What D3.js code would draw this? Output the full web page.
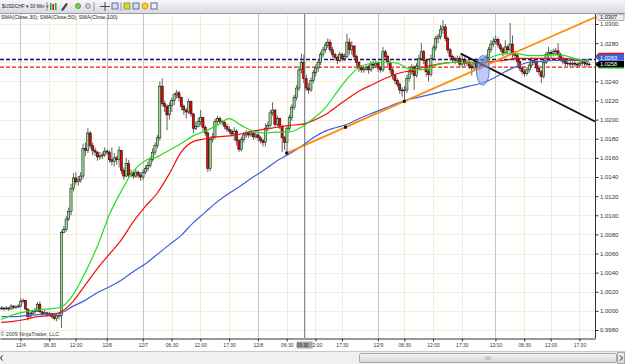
<!DOCTYPE html>
<html>
<head>
<meta charset="utf-8">
<script src="https://cdn.jsdelivr.net/npm/d3@7"></script>
<style>
  body { margin: 0; background: #fff; overflow: hidden; }
  svg { display: block; font-family: "Liberation Sans", Arial, sans-serif; }
</style>
</head>
<body>
<svg id="chart"></svg>
<script>
// USDCHF 30 min bars, prices
let firstOpen = 1.0002

let closes = [
  1.0003, 1.0002, 1.0003, 1.0002, 1.0005, 1.0004, 1.0004, 1.0005, 1.0010, 1.0011, 1.0002, 0.9994, 0.9997, 0.9999, 1.0000, 1.0007, 0.9999, 0.9997, 0.9998, 0.9996, 0.9997, 0.9994, 0.9992, 0.9995, 0.9995,
  1.0082, 1.0085, 1.0096, 1.0104, 1.0128, 1.0139, 1.0135, 1.0137, 1.0141, 1.0170, 1.0168, 1.0186, 1.0173, 1.0168, 1.0166, 1.0161, 1.0162, 1.0163, 1.0167, 1.0166, 1.0158, 1.0156, 1.0160, 1.0158, 1.0168, 1.0147, 1.0141, 1.0154, 1.0142, 1.0144, 1.0141, 1.0145, 1.0142, 1.0140, 1.0145, 1.0149,
  1.0152, 1.0158, 1.0166, 1.0173, 1.0181, 1.0235, 1.0217, 1.0214, 1.0205, 1.0215, 1.0220, 1.0226, 1.0228, 1.0223, 1.0214, 1.0210, 1.0208, 1.0219, 1.0206, 1.0191, 1.0193, 1.0198, 1.0202, 1.0192, 1.0186, 1.0149, 1.0179, 1.0182, 1.0198, 1.0201, 1.0198, 1.0197, 1.0193, 1.0190, 1.0188, 1.0185, 1.0188, 1.0178, 1.0169, 1.0179,
  1.0184, 1.0186, 1.0184, 1.0186, 1.0182, 1.0184, 1.0181, 1.0178, 1.0176, 1.0191, 1.0194, 1.0207, 1.0210, 1.0195, 1.0201, 1.0193, 1.0181, 1.0176, 1.0191, 1.0202, 1.0213, 1.0223, 1.0233, 1.0252, 1.0260, 1.0243, 1.0233, 1.0231, 1.0241, 1.0249, 1.0254, 1.0260, 1.0268, 1.0273, 1.0278, 1.0281, 1.0273, 1.0268, 1.0265, 1.0262,
  1.0268, 1.0264, 1.0266, 1.0281, 1.0273, 1.0277, 1.0266, 1.0260, 1.0254, 1.0252, 1.0253, 1.0255, 1.0252, 1.0258, 1.0257, 1.0259, 1.0254, 1.0252, 1.0271, 1.0266, 1.0260, 1.0252, 1.0246, 1.0241, 1.0237, 1.0231, 1.0230, 1.0231, 1.0243, 1.0250, 1.0255, 1.0246, 1.0256, 1.0264, 1.0271, 1.0262, 1.0250, 1.0247, 1.0264, 1.0275,
  1.0285, 1.0287, 1.0294, 1.0297, 1.0285, 1.0273, 1.0266, 1.0264, 1.0262, 1.0264, 1.0258, 1.0263, 1.0259, 1.0260, 1.0256, 1.0254, 1.0259, 1.0255, 1.0260, 1.0256, 1.0262, 1.0265, 1.0273, 1.0279, 1.0282, 1.0284, 1.0278, 1.0274, 1.0270, 1.0276,
  1.0273, 1.0279, 1.0268, 1.0267, 1.0261, 1.0254, 1.0250, 1.0248, 1.0252, 1.0257, 1.0262, 1.0260, 1.0254, 1.0250, 1.0245, 1.0260, 1.0268, 1.0270, 1.0269, 1.0271, 1.0272, 1.0268, 1.0264, 1.0261, 1.0259, 1.0259, 1.0258, 1.0259, 1.0258, 1.0257, 1.0259, 1.0260, 1.0259, 1.0258, 1.0258
]

let highs = [
  1.0005, 1.0004, 1.0005, 1.0004, 1.0007, 1.0006, 1.0006, 1.0007, 1.0013, 1.0013, 1.0010, 1.0002, 0.9999, 1.0001, 1.0003, 1.0009, 1.0010, 1.0000, 1.0001, 0.9999, 0.9999, 0.9998, 0.9996, 0.9997, 0.9998,
  1.0084, 1.0089, 1.0099, 1.0108, 1.0133, 1.0144, 1.0145, 1.0141, 1.0145, 1.0175, 1.0176, 1.0191, 1.0188, 1.0176, 1.0171, 1.0167, 1.0166, 1.0166, 1.0171, 1.0169, 1.0168, 1.0171, 1.0165, 1.0162, 1.0172, 1.0168, 1.0150, 1.0160, 1.0158, 1.0148, 1.0146, 1.0148, 1.0147, 1.0145, 1.0148, 1.0152,
  1.0156, 1.0161, 1.0170, 1.0176, 1.0184, 1.0240, 1.0243, 1.0220, 1.0216, 1.0218, 1.0223, 1.0228, 1.0231, 1.0230, 1.0224, 1.0216, 1.0212, 1.0222, 1.0220, 1.0207, 1.0198, 1.0202, 1.0210, 1.0203, 1.0194, 1.0188, 1.0182, 1.0186, 1.0201, 1.0204, 1.0203, 1.0200, 1.0199, 1.0196, 1.0193, 1.0190, 1.0192, 1.0190, 1.0180, 1.0182,
  1.0187, 1.0189, 1.0188, 1.0189, 1.0188, 1.0187, 1.0187, 1.0183, 1.0180, 1.0196, 1.0198, 1.0210, 1.0218, 1.0211, 1.0204, 1.0202, 1.0195, 1.0183, 1.0193, 1.0205, 1.0216, 1.0226, 1.0236, 1.0256, 1.0269, 1.0268, 1.0247, 1.0238, 1.0244, 1.0252, 1.0258, 1.0263, 1.0271, 1.0276, 1.0281, 1.0285, 1.0284, 1.0276, 1.0270, 1.0267,
  1.0271, 1.0270, 1.0269, 1.0290, 1.0285, 1.0282, 1.0278, 1.0268, 1.0261, 1.0257, 1.0256, 1.0258, 1.0257, 1.0261, 1.0261, 1.0262, 1.0261, 1.0256, 1.0276, 1.0273, 1.0268, 1.0262, 1.0254, 1.0248, 1.0243, 1.0239, 1.0234, 1.0235, 1.0247, 1.0253, 1.0258, 1.0257, 1.0259, 1.0268, 1.0280, 1.0273, 1.0264, 1.0253, 1.0268, 1.0278,
  1.0288, 1.0290, 1.0299, 1.0304, 1.0300, 1.0287, 1.0275, 1.0268, 1.0266, 1.0267, 1.0267, 1.0268, 1.0265, 1.0263, 1.0262, 1.0258, 1.0262, 1.0261, 1.0263, 1.0262, 1.0265, 1.0268, 1.0276, 1.0283, 1.0286, 1.0288, 1.0286, 1.0280, 1.0276, 1.0283,
  1.0278, 1.0301, 1.0288, 1.0272, 1.0269, 1.0263, 1.0256, 1.0253, 1.0255, 1.0260, 1.0265, 1.0264, 1.0262, 1.0257, 1.0252, 1.0263, 1.0271, 1.0276, 1.0273, 1.0274, 1.0275, 1.0280, 1.0270, 1.0266, 1.0263, 1.0262, 1.0261, 1.0261, 1.0261, 1.0260, 1.0261, 1.0262, 1.0262, 1.0261, 1.0260
]

let lows = [
  1.0001, 1.0000, 1.0001, 1.0000, 1.0001, 1.0002, 1.0002, 1.0003, 1.0004, 1.0008, 1.0001, 0.9990, 0.9993, 0.9996, 0.9997, 0.9999, 0.9998, 0.9995, 0.9996, 0.9994, 0.9995, 0.9992, 0.9990, 0.9989, 0.9991,
  0.9982, 1.0081, 1.0083, 1.0094, 1.0100, 1.0125, 1.0132, 1.0131, 1.0134, 1.0138, 1.0162, 1.0165, 1.0170, 1.0163, 1.0162, 1.0157, 1.0158, 1.0159, 1.0161, 1.0163, 1.0155, 1.0152, 1.0151, 1.0153, 1.0150, 1.0143, 1.0137, 1.0140, 1.0139, 1.0140, 1.0138, 1.0139, 1.0139, 1.0136, 1.0137, 1.0143,
  1.0146, 1.0150, 1.0156, 1.0163, 1.0170, 1.0178, 1.0214, 1.0208, 1.0189, 1.0200, 1.0208, 1.0215, 1.0222, 1.0219, 1.0210, 1.0205, 1.0201, 1.0206, 1.0203, 1.0186, 1.0189, 1.0192, 1.0194, 1.0188, 1.0183, 1.0145, 1.0146, 1.0176, 1.0180, 1.0195, 1.0195, 1.0194, 1.0190, 1.0187, 1.0185, 1.0182, 1.0178, 1.0173, 1.0166, 1.0167,
  1.0176, 1.0181, 1.0181, 1.0182, 1.0179, 1.0180, 1.0177, 1.0175, 1.0172, 1.0172, 1.0188, 1.0192, 1.0204, 1.0192, 1.0193, 1.0190, 1.0166, 1.0168, 1.0165, 1.0188, 1.0199, 1.0210, 1.0220, 1.0230, 1.0248, 1.0238, 1.0230, 1.0227, 1.0229, 1.0238, 1.0245, 1.0250, 1.0257, 1.0265, 1.0270, 1.0275, 1.0270, 1.0265, 1.0262, 1.0258,
  1.0260, 1.0261, 1.0261, 1.0264, 1.0268, 1.0268, 1.0262, 1.0256, 1.0250, 1.0249, 1.0249, 1.0251, 1.0248, 1.0250, 1.0253, 1.0254, 1.0250, 1.0249, 1.0250, 1.0262, 1.0256, 1.0248, 1.0242, 1.0237, 1.0234, 1.0227, 1.0224, 1.0218, 1.0228, 1.0240, 1.0247, 1.0231, 1.0244, 1.0254, 1.0262, 1.0258, 1.0245, 1.0240, 1.0245, 1.0262,
  1.0272, 1.0280, 1.0284, 1.0290, 1.0282, 1.0270, 1.0262, 1.0260, 1.0258, 1.0260, 1.0254, 1.0255, 1.0256, 1.0256, 1.0253, 1.0246, 1.0252, 1.0251, 1.0252, 1.0252, 1.0254, 1.0258, 1.0262, 1.0270, 1.0276, 1.0279, 1.0275, 1.0271, 1.0266, 1.0268,
  1.0268, 1.0270, 1.0264, 1.0262, 1.0257, 1.0251, 1.0247, 1.0245, 1.0246, 1.0249, 1.0255, 1.0257, 1.0250, 1.0246, 1.0238, 1.0243, 1.0258, 1.0264, 1.0265, 1.0266, 1.0267, 1.0265, 1.0261, 1.0258, 1.0256, 1.0256, 1.0255, 1.0256, 1.0255, 1.0254, 1.0255, 1.0256, 1.0256, 1.0255, 1.0256
]

// moving averages, one value every 5 bars
let smaStep = 5
let sma30 = [0.9991, 0.9996, 0.9999, 1.0001, 1.0002, 1.0004, 1.0017, 1.0040, 1.0067, 1.0100, 1.0125, 1.0146, 1.0157, 1.0161, 1.0168, 1.0175, 1.0183, 1.0188, 1.0194, 1.0201, 1.0194, 1.0188, 1.0186, 1.0187, 1.0187, 1.0192, 1.0201, 1.0212, 1.0229, 1.0245, 1.0256, 1.0259, 1.0260, 1.0259, 1.0253, 1.0252, 1.0256, 1.0259, 1.0260, 1.0259, 1.0260, 1.0266, 1.0269, 1.0269, 1.0267, 1.0267, 1.0268, 1.0267, 1.0263, 1.0261]
let sma50 = [0.9988, 0.9989, 0.9991, 0.9994, 0.9995, 0.9999, 1.0010, 1.0027, 1.0044, 1.0059, 1.0074, 1.0093, 1.0109, 1.0123, 1.0143, 1.0166, 1.0177, 1.0180, 1.0182, 1.0183, 1.0185, 1.0188, 1.0190, 1.0192, 1.0194, 1.0195, 1.0199, 1.0205, 1.0214, 1.0223, 1.0231, 1.0237, 1.0243, 1.0248, 1.0251, 1.0254, 1.0257, 1.0259, 1.0260, 1.0260, 1.0260, 1.0261, 1.0262, 1.0264, 1.0264, 1.0264, 1.0264, 1.0264, 1.0262, 1.0261]
let sma100 = [0.9994, 0.9994, 0.9995, 0.9996, 0.9997, 0.9998, 1.0005, 1.0011, 1.0019, 1.0025, 1.0032, 1.0041, 1.0049, 1.0059, 1.0069, 1.0079, 1.0092, 1.0103, 1.0114, 1.0123, 1.0131, 1.0140, 1.0148, 1.0157, 1.0164, 1.0172, 1.0181, 1.0188, 1.0192, 1.0196, 1.0202, 1.0207, 1.0212, 1.0217, 1.0221, 1.0224, 1.0227, 1.0230, 1.0232, 1.0235, 1.0238, 1.0243, 1.0250, 1.0256, 1.0260, 1.0261, 1.0262, 1.0262, 1.0262, 1.0263]

let yTicks = [0.9980, 1.0000, 1.0020, 1.0040, 1.0060, 1.0080, 1.0100, 1.0120, 1.0140, 1.0160, 1.0180, 1.0200, 1.0220, 1.0240, 1.0260, 1.0280, 1.0300]
let xTickBars = [8, 20, 31, 44, 59, 71, 83, 95, 107, 119, 131, 142, 157, 168, 180, 192, 206, 218, 229, 241]
let xTickLabels = ['12/4', '06:30', '12:00', '12/6', '12/7', '06:30', '12:00', '17:30', '12/8', '06:30', '12:00', '17:30', '12/9', '06:30', '12:00', '17:30', '12/10', '06:30', '12:00', '17:30']

let crossBar = 126.5
let crossLabel = '09:30'
let askPrice = 1.0263
let bidPrice = 1.0255
let orangeLine = [{bar: 119, price: 1.0165}, {bar: 247.5, price: 1.0307}]
let orangeMarks = [119, 143.5, 168]
let blackLine = [{bar: 191.5, price: 1.0269}, {bar: 247.5, price: 1.0198}]
let ellipseBox = {bar1: 198.5, bar2: 203, top: 1.0267, bottom: 1.0236}

let width = 625
let height = 364
let plotRight = 595
let plotTop = 14
let plotBottom = 338

let svg = d3.select('#chart').attr('width', width).attr('height', height)

let xScale = d3.scaleLinear().domain([-0.5, 247.5]).range([0, plotRight])
let yScale = d3.scaleLinear().domain([0.9980, 1.0300]).range([330, 24])

let bars = closes.map((c, i) => {
    let o = i === 0 ? firstOpen : closes[i - 1]
    return {i: i, o: o, c: c, h: Math.max(highs[i], o, c), l: Math.min(lows[i], o, c)}
})

let drawFrame = () => {
    let defs = svg.append('defs')
    let tb = defs.append('linearGradient').attr('id', 'tb').attr('x1', 0).attr('x2', 0).attr('y1', 0).attr('y2', 1)
    tb.append('stop').attr('offset', 0).attr('stop-color', '#f7f7fa')
    tb.append('stop').attr('offset', 1).attr('stop-color', '#d9d9e2')
    let sb = defs.append('linearGradient').attr('id', 'sb').attr('x1', 0).attr('x2', 0).attr('y1', 0).attr('y2', 1)
    sb.append('stop').attr('offset', 0).attr('stop-color', '#f4f4f4')
    sb.append('stop').attr('offset', 1).attr('stop-color', '#d6d6d6')
    defs.append('clipPath').attr('id', 'plot')
        .append('rect').attr('x', 0).attr('y', plotTop).attr('width', plotRight).attr('height', plotBottom - plotTop)

    // toolbar
    svg.append('rect').attr('x', 0).attr('y', 0).attr('width', width).attr('height', 13).attr('fill', 'url(#tb)')
    svg.append('line').attr('x1', 0).attr('x2', width).attr('y1', 13.5).attr('y2', 13.5).attr('stroke', '#9a9aa4')
    let tool = svg.append('g').style('font-size', '4.8px').attr('fill', '#222')
    tool.append('text').attr('x', 2).attr('y', 8).text('$USDCHF ▾')
    tool.append('text').attr('x', 30).attr('y', 8).text('30 Min ▾')
    ;[47, 94, 121].forEach(x => {
        tool.append('line').attr('x1', x).attr('x2', x).attr('y1', 2).attr('y2', 11).attr('stroke', '#999')
    })
    tool.append('rect').attr('x', 50).attr('y', 3).attr('width', 1.5).attr('height', 7).attr('fill', '#2a2')
    tool.append('rect').attr('x', 52.5).attr('y', 4).attr('width', 1.5).attr('height', 6).attr('fill', '#d00')
    tool.append('rect').attr('x', 55).attr('y', 3).attr('width', 1.5).attr('height', 7).attr('fill', '#2a2')
    tool.append('path').attr('d', 'M61,10 L66,3 L68,4 L63,11 Z').attr('fill', '#444')
    tool.append('circle').attr('cx', 78).attr('cy', 6).attr('r', 2.5).attr('fill', '#8c4').attr('stroke', '#4a2')
    tool.append('circle').attr('cx', 88).attr('cy', 6).attr('r', 2.5).attr('fill', '#ccc').attr('stroke', '#999')
    tool.append('path').attr('d', 'M100,6.5 H110 M105,2 V11').attr('stroke', '#222').attr('stroke-width', 0.8)
    tool.append('rect').attr('x', 112).attr('y', 3).attr('width', 6).attr('height', 6).attr('fill', '#dde').attr('stroke', '#57a')
    tool.append('rect').attr('x', 124).attr('y', 3).attr('width', 6).attr('height', 6).attr('fill', '#dc4').attr('stroke', '#8a2')
    tool.append('rect').attr('x', 133).attr('y', 3).attr('width', 6).attr('height', 6).attr('fill', '#cde').attr('stroke', '#579')
    tool.append('circle').attr('cx', 145).attr('cy', 6).attr('r', 3).attr('fill', '#fc3').attr('stroke', '#c90')
    tool.append('rect').attr('x', 151).attr('y', 3).attr('width', 6).attr('height', 6).attr('fill', '#eef').attr('stroke', '#668')

    // scrollbar
    svg.append('rect').attr('x', 0).attr('y', 351).attr('width', width).attr('height', 13).attr('fill', '#f0f0f0')
    svg.append('line').attr('x1', 0).attr('x2', width).attr('y1', 351.5).attr('y2', 351.5).attr('stroke', '#c8c8c8')
    svg.append('rect').attr('x', 359.5).attr('y', 353.5).attr('width', 257).attr('height', 9).attr('rx', 1.5)
        .attr('fill', 'url(#sb)').attr('stroke', '#a8a8a8')
    svg.append('path').attr('d', 'M486,356 V360 M488,356 V360 M490,356 V360').attr('stroke', '#888').attr('stroke-width', 0.6)
    svg.append('rect').attr('x', 617.5).attr('y', 352.5).attr('width', 7).attr('height', 11).attr('fill', 'url(#sb)').attr('stroke', '#a8a8a8')
    svg.append('path').attr('d', 'M620,355.5 L622.5,358 L620,360.5').attr('fill', 'none').attr('stroke', '#222')
    svg.append('path').attr('d', 'M2.5,355.5 L0.5,358 L2.5,360.5').attr('fill', 'none').attr('stroke', '#222')
}

let drawGrid = () => {
    let grid = svg.append('g')
    grid.selectAll('line.h').data(yTicks).enter().append('line')
        .attr('x1', 0).attr('x2', plotRight)
        .attr('y1', d => Math.round(yScale(d)) + 0.5).attr('y2', d => Math.round(yScale(d)) + 0.5)
        .attr('stroke', '#f0efd9')
    grid.selectAll('line.v').data(xTickBars).enter().append('line')
        .attr('x1', d => Math.round(xScale(d)) + 0.5).attr('x2', d => Math.round(xScale(d)) + 0.5)
        .attr('y1', plotTop).attr('y2', plotBottom)
        .attr('stroke', (d, i) => xTickLabels[i].includes('/') ? '#c6c6c6' : '#f0efd9')
}

let drawLevels = () => {
    let g = svg.append('g').attr('clip-path', 'url(#plot)')
    g.append('line').attr('x1', 0).attr('x2', plotRight)
        .attr('y1', yScale(askPrice)).attr('y2', yScale(askPrice))
        .attr('stroke', '#10107a').attr('stroke-width', 1.5).attr('stroke-dasharray', '4,2')
    g.append('line').attr('x1', 0).attr('x2', plotRight)
        .attr('y1', yScale(bidPrice)).attr('y2', yScale(bidPrice))
        .attr('stroke', '#ff1a00').attr('stroke-width', 1.3).attr('stroke-dasharray', '4,2')
}

let drawCandles = () => {
    let g = svg.append('g').attr('clip-path', 'url(#plot)')
    g.selectAll('line.wick').data(bars).enter().append('line')
        .attr('x1', d => xScale(d.i) + 0.3).attr('x2', d => xScale(d.i) + 0.3)
        .attr('y1', d => yScale(d.h)).attr('y2', d => yScale(d.l))
        .attr('stroke', '#505050').attr('stroke-width', 0.9)
    g.selectAll('rect.body').data(bars).enter().append('rect')
        .attr('x', d => xScale(d.i) - 0.9)
        .attr('y', d => yScale(Math.max(d.o, d.c)))
        .attr('width', 2.2)
        .attr('height', d => Math.max(0.6, Math.abs(yScale(d.o) - yScale(d.c))))
        .attr('fill', d => d.c >= d.o ? '#8fe08f' : '#f00000')
        .attr('stroke', '#111').attr('stroke-width', 0.55)
}

let drawSma = () => {
    let g = svg.append('g').attr('clip-path', 'url(#plot)')
    let line = d3.line().x((d, i) => xScale(i * smaStep)).y(d => yScale(d)).curve(d3.curveMonotoneX)
    ;[[sma100, '#3d62e0'], [sma50, '#f01010'], [sma30, '#20e020']].forEach(s => {
        g.append('path').attr('d', line(s[0])).attr('fill', 'none')
            .attr('stroke', s[1]).attr('stroke-width', 1.2)
    })
}

let drawDrawings = () => {
    let g = svg.append('g').attr('clip-path', 'url(#plot)')
    let seg = d3.line().x(d => xScale(d.bar)).y(d => yScale(d.price))
    g.append('path').attr('d', seg(orangeLine)).attr('stroke', '#ff8c0a').attr('stroke-width', 1.8).attr('fill', 'none')
    let a = orangeLine[0], b = orangeLine[1]
    let at = bar => a.price + (b.price - a.price) * (bar - a.bar) / (b.bar - a.bar)
    g.selectAll('rect.mark').data(orangeMarks).enter().append('rect')
        .attr('x', d => xScale(d) - 1.5).attr('y', d => yScale(at(d)) - 1.5)
        .attr('width', 3).attr('height', 3).attr('fill', '#111')
    g.append('path').attr('d', seg(blackLine)).attr('stroke', '#111').attr('stroke-width', 1.8).attr('fill', 'none')
    let ex1 = xScale(ellipseBox.bar1), ex2 = xScale(ellipseBox.bar2)
    let ey1 = yScale(ellipseBox.top), ey2 = yScale(ellipseBox.bottom)
    g.append('ellipse').attr('cx', (ex1 + ex2) / 2).attr('cy', (ey1 + ey2) / 2)
        .attr('rx', (ex2 - ex1) / 2 + 1).attr('ry', (ey2 - ey1) / 2)
        .attr('fill', '#8c9cf4').attr('fill-opacity', 0.55).attr('stroke', '#4a5ee0').attr('stroke-width', 0.8)

    // crosshair
    svg.append('line').attr('x1', xScale(crossBar)).attr('x2', xScale(crossBar))
        .attr('y1', plotTop).attr('y2', plotBottom).attr('stroke', '#6e6e6e').attr('stroke-width', 1)
}

let lastClose = closes[closes.length - 1]

let genAxes = () => {
    // the price tags on the right cover the tick label next to the last price
    let hidden = v => Math.abs(yScale(v) - yScale(lastClose)) < 6
    let yAxis = d3.axisRight(yScale).tickValues(yTicks)
        .tickFormat(d => hidden(d) ? '' : d3.format('.4f')(d)).tickSize(3).tickPadding(1.5)
    let gy = svg.append('g').attr('transform', 'translate(' + (plotRight + 0.5) + ',0)')
        .call(yAxis)
    gy.select('.domain').remove()
    gy.selectAll('text').style('font-size', '6px').attr('fill', '#333')
    gy.selectAll('line').attr('stroke', '#333')
    svg.append('line').attr('x1', plotRight + 0.5).attr('x2', plotRight + 0.5)
        .attr('y1', plotTop).attr('y2', plotBottom + 0.5).attr('stroke', '#333')

    let xAxis = d3.axisBottom(xScale).tickValues(xTickBars).tickFormat((d, i) => xTickLabels[i]).tickSize(3).tickSizeOuter(0).tickPadding(1.5)
    let gx = svg.append('g').attr('transform', 'translate(0,' + (plotBottom + 0.5) + ')')
        .call(xAxis)
    gx.select('.domain').attr('stroke', '#333')
    gx.selectAll('text').style('font-size', '5px').attr('fill', '#333')
    gx.selectAll('line').attr('stroke', '#333')

    // crosshair time box
    let cx = xScale(crossBar)
    svg.append('rect').attr('x', cx - 8).attr('y', 341.5).attr('width', 16).attr('height', 7).attr('fill', '#a9a9a9')
    svg.append('text').attr('x', cx - 2.2).attr('y', 347).attr('text-anchor', 'middle')
        .style('font-size', '4.8px').attr('fill', '#222').text(crossLabel)
}

let priceTag = (yc, fill, stroke) => {
    return svg.append('path')
        .attr('d', 'M' + (plotRight + 0.5) + ',' + yc + ' L' + (plotRight + 4) + ',' + (yc - 3.2) + ' H624 V' + (yc + 3.2) + ' H' + (plotRight + 4) + ' Z')
        .attr('fill', fill).attr('stroke', stroke || 'none').attr('stroke-width', 0.6)
}

let genLabels = () => {
    svg.append('text').attr('x', 1).attr('y', 19).style('font-size', '5.3px').attr('fill', '#222')
        .text('SMA(Close,30); SMA(Close,50); SMA(Close,100)')
    svg.append('text').attr('x', 0.5).attr('y', 336).style('font-size', '5.3px').attr('fill', '#333')
        .text('© 2009 NinjaTrader, LLC')

    // green and red tags sit behind the others, only their edges show
    let yClose = yScale(lastClose)
    let yBlue = Math.min(yScale(sma100[sma100.length - 1]), yClose - 6.6)
    priceTag(yBlue - 1.6, '#e01010')
    priceTag(yClose + 1.2, '#20c020')
    priceTag(yBlue, '#3d62e0')
    svg.append('text').attr('x', plotRight + 5).attr('y', yBlue + 2.1).style('font-size', '5.6px')
        .attr('fill', '#fff').text(d3.format('.4f')(sma100[sma100.length - 1]))
    priceTag(yClose, '#000')
    svg.append('text').attr('x', plotRight + 5).attr('y', yClose + 2.1).style('font-size', '5.6px')
        .attr('fill', '#fff').text(d3.format('.4f')(lastClose))

    let ty = yScale(orangeLine[1].price)
    priceTag(ty, '#eeeeee', '#777')
    svg.append('text').attr('x', plotRight + 5).attr('y', ty + 2.1).style('font-size', '5.6px')
        .attr('fill', '#111').text(d3.format('.4f')(orangeLine[1].price))
}

drawFrame()
drawGrid()
drawLevels()
drawCandles()
drawSma()
drawDrawings()
genAxes()
genLabels()
</script>
</body>
</html>
